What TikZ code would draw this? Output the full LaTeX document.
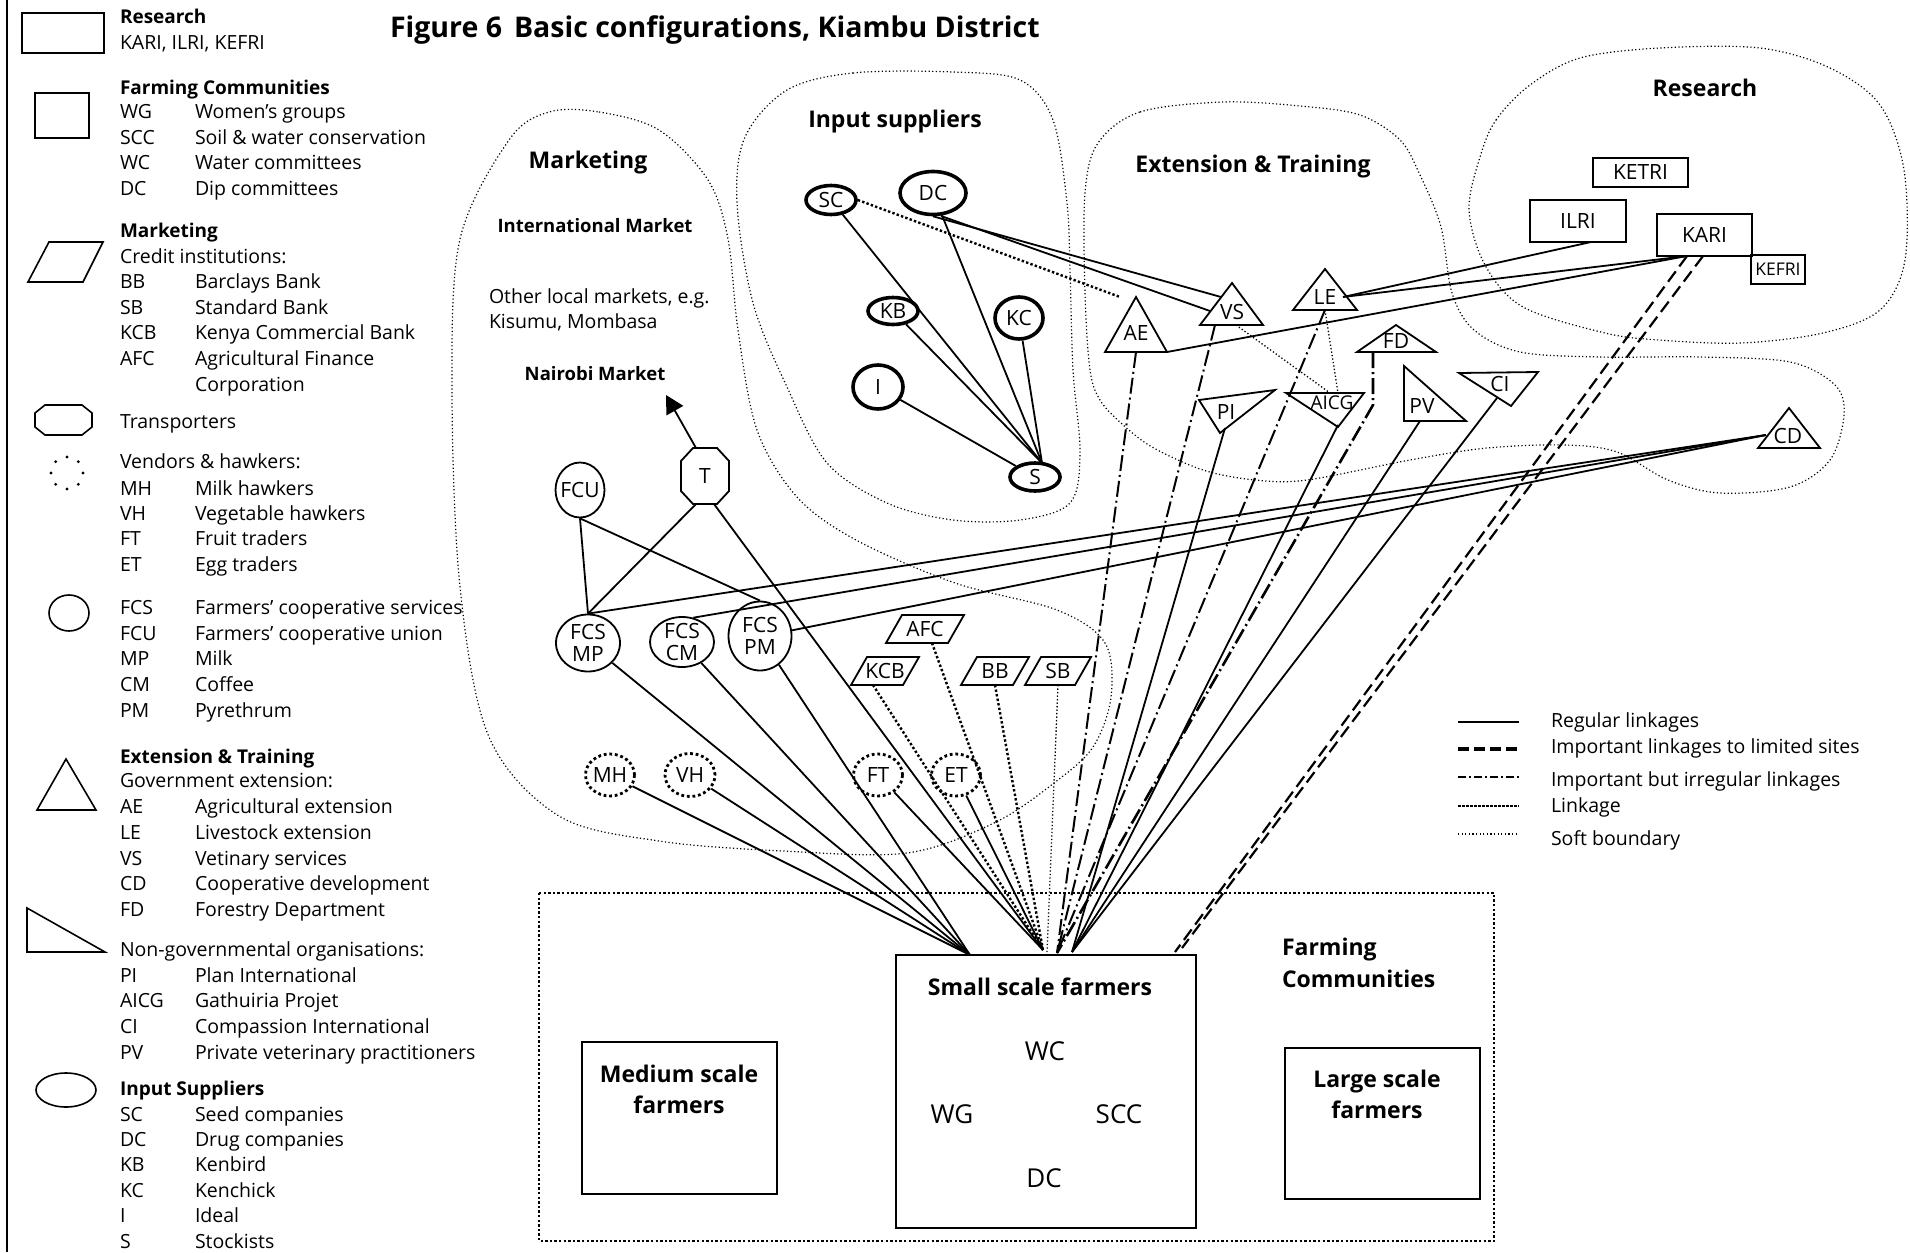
\documentclass[tikz,border=0pt]{standalone}
\usepackage{fontspec}
\setmainfont{Open Sans}
\usetikzlibrary{shapes.geometric,arrows.meta,calc}

% font sizes (1pt = one unit of the drawing grid)
\newcommand\fLeg{\fontsize{19.5pt}{25.5pt}\selectfont}
\newcommand\fLegB{\fontsize{19pt}{25.5pt}\selectfont\bfseries}
\newcommand\fLbl{\fontsize{21pt}{22pt}\selectfont}
\newcommand\fSec{\fontsize{23pt}{30pt}\selectfont\bfseries}
\newcommand\fSub{\fontsize{18.5pt}{24pt}\selectfont\bfseries}
\newcommand\fTtl{\fontsize{28.5pt}{34pt}\selectfont\bfseries}
\newcommand\fIn{\fontsize{26pt}{30pt}\selectfont}

% legend helpers
\newcommand\legrow[4]{%
  \node[txt, anchor=base west] (#1a) at (120,#2) {\fLeg #3};
  \node[txt, anchor=base west] (#1b) at (195,#2) {\fLeg #4};}
\newcommand\leghead[4]{%
  \node[txt, anchor=base west] (#1) at (120,#2) {#3#4};}
% shape node with its label on top
\newcommand\lblshape[5]{%
  \node[#1] (#2) at (#3,#4) {};
  \node[txt, font=\fLbl, align=center] (#2-t) at (#2.center) {#5};}
% parallelogram: name, x, y, edge width, text
\newcommand\pgram[5]{%
  \node[txt, font=\fLbl, minimum width=#4, minimum height=28pt] (#1) at (#2,#3) {#5};
  \draw[shp] ($(#1.south west)+(-8,0)$) -- ($(#1.south east)+(-8,0)$)
     -- ($(#1.north east)+(8,0)$) -- ($(#1.north west)+(8,0)$) -- cycle;}

\begin{document}
\begin{tikzpicture}[x=1pt, y=-1pt,
  txt/.style={inner sep=0pt, outer sep=0pt},
  sym/.style={draw, line width=1.6pt},
  shp/.style={draw, line width=1.8pt},
  reg/.style={line width=1.8pt},
  imp/.style={line width=2.2pt, dash pattern=on 13pt off 6pt},
  irr/.style={line width=2pt, dash pattern=on 16pt off 4pt on 2pt off 4pt},
  lnk/.style={line width=2.4pt, dash pattern=on 2.4pt off 2.2pt},
  thindot/.style={line width=1.3pt, dash pattern=on 1.3pt off 2.2pt},
  soft/.style={line width=1.2pt, dash pattern=on 1.2pt off 2.4pt},
  sup/.style={ellipse, draw, line width=3.6pt, inner sep=0pt},
  coop/.style={ellipse, draw, line width=1.8pt, inner sep=0pt},
  vend/.style={ellipse, draw, line width=2.8pt, dash pattern=on 2.8pt off 2.8pt, inner sep=0pt},
  box/.style={rectangle, draw, line width=1.8pt, inner sep=0pt},
]
\useasboundingbox (0,0) rectangle (1910,1252);

% ---------------- key on the left ----------------
\draw[line width=2pt] (7,0) -- (7,1252);

\draw[sym] (22,13) rectangle (104,53);
\draw[sym] (35,93) rectangle (89,138);
\draw[sym] (28,282) -- (83,282) -- (103,242) -- (49,242) -- cycle;
\draw[sym] (45,405) -- (82,405) -- (92,413) -- (92,427) -- (82,435) -- (45,435) -- (35,427) -- (35,413) -- cycle;
\foreach \a in {0,45,...,315} \fill ($(67,473)+(\a:16)$) circle (1.6pt);
\draw[sym] (69,613) ellipse [x radius=20pt, y radius=18pt];
\draw[sym] (37,810) -- (96,810) -- (66,759) -- cycle;
\draw[sym] (27,908) -- (27,952) -- (105,952) -- cycle;
\draw[sym] (66,1090) ellipse [x radius=30pt, y radius=17pt];

\leghead{lgR}{24}{\fLegB}{Research}
\node[txt, anchor=base west] (lgRa) at (120,50) {\fLeg KARI, ILRI, KEFRI};
\leghead{lgF}{95}{\fLegB}{Farming Communities}
\legrow{lgWG}{119}{WG}{Women’s groups}
\legrow{lgSCC}{145}{SCC}{Soil \& water conservation}
\legrow{lgWC}{170}{WC}{Water committees}
\legrow{lgDC}{196}{DC}{Dip committees}
\leghead{lgM}{237}{\fLegB}{Marketing}
\leghead{lgCr}{263}{\fLeg}{Credit institutions:}
\legrow{lgBB}{288}{BB}{Barclays Bank}
\legrow{lgSB}{314}{SB}{Standard Bank}
\legrow{lgKCB}{339}{KCB}{Kenya Commercial Bank}
\legrow{lgAFC}{365}{AFC}{Agricultural Finance}
\node[txt, anchor=base west] (lgAFCc) at (195,391) {\fLeg Corporation};
\leghead{lgT}{428}{\fLeg}{Transporters}
\leghead{lgV}{468}{\fLeg}{Vendors \& hawkers:}
\legrow{lgMH}{495}{MH}{Milk hawkers}
\legrow{lgVH}{520}{VH}{Vegetable hawkers}
\legrow{lgFT}{545}{FT}{Fruit traders}
\legrow{lgET}{571}{ET}{Egg traders}
\legrow{lgFCS}{614}{FCS}{Farmers’ cooperative services}
\legrow{lgFCU}{640}{FCU}{Farmers’ cooperative union}
\legrow{lgMP}{665}{MP}{Milk}
\legrow{lgCM}{691}{CM}{Coffee}
\legrow{lgPM}{717}{PM}{Pyrethrum}
\leghead{lgE}{763}{\fLegB}{Extension \& Training}
\leghead{lgG}{787}{\fLeg}{Government extension:}
\legrow{lgAE}{813}{AE}{Agricultural extension}
\legrow{lgLE}{839}{LE}{Livestock extension}
\legrow{lgVS}{865}{VS}{Vetinary services}
\legrow{lgCD}{890}{CD}{Cooperative development}
\legrow{lgFD}{916}{FD}{Forestry Department}
\leghead{lgN}{956}{\fLeg}{Non-governmental organisations:}
\legrow{lgPI}{982}{PI}{Plan International}
\legrow{lgAICG}{1007}{AICG}{Gathuiria Projet}
\legrow{lgCI}{1033}{CI}{Compassion International}
\legrow{lgPV}{1059}{PV}{Private veterinary practitioners}
\leghead{lgI}{1095}{\fLegB}{Input Suppliers}
\legrow{lgSC}{1121}{SC}{Seed companies}
\legrow{lgDCo}{1146}{DC}{Drug companies}
\legrow{lgKB}{1171}{KB}{Kenbird}
\legrow{lgKC}{1197}{KC}{Kenchick}
\legrow{lgId}{1222}{I}{Ideal}
\legrow{lgS}{1248}{S}{Stockists}

% ---------------- title ----------------
\node[txt, anchor=base west, font=\fTtl] (title) at (390,38)
  {Figure 6\hspace{12pt}Basic configurations, Kiambu District};

% ---------------- soft boundaries ----------------
\draw[soft] plot[smooth cycle, tension=0.55] coordinates {
  (549,112) (599,112) (659,130) (708,180) (728,239) (738,330) (757,430) (797,497)
  (856,540) (955,583) (1057,610) (1105,643) (1111,697) (1093,747) (1054,783)
  (994,823) (907,853) (783,851) (659,841) (559,816) (489,737) (460,587) (452,388)
  (460,239) (509,140)};
\draw[soft] plot[smooth cycle, tension=0.55] coordinates {
  (787,90) (853,73) (953,72) (1020,80) (1053,120) (1067,203) (1070,270) (1073,370)
  (1080,453) (1070,503) (1020,520) (953,520) (887,503) (827,463) (787,387)
  (753,303) (737,203) (745,137)};
\draw[soft] plot[smooth cycle, tension=0.55] coordinates {
  (1098,143) (1140,112) (1223,102) (1300,106) (1360,115) (1400,140) (1420,175)
  (1441,227) (1452,293) (1474,330) (1520,352) (1600,357) (1700,357) (1790,362)
  (1835,385) (1844,415) (1830,460) (1790,487) (1720,493) (1668,480) (1617,452)
  (1565,445) (1487,448) (1410,460) (1307,480) (1255,480) (1203,470) (1152,447)
  (1121,423) (1100,400) (1090,370) (1085,293) (1085,193)};
\draw[soft] plot[smooth cycle, tension=0.55] coordinates {
  (1480,157) (1496,120) (1530,85) (1580,58) (1660,48) (1760,48) (1830,68)
  (1880,105) (1904,170) (1905,260) (1880,310) (1823,333) (1741,343) (1659,340)
  (1605,333) (1523,307) (1485,265) (1469,210)};

% ---------------- group titles ----------------
\node[txt, font=\fSec] (tMkt) at (588,163) {Marketing};
\node[txt, font=\fSec] (tInp) at (895,122) {Input suppliers};
\node[txt, font=\fSec] (tExt) at (1253,167) {Extension \& Training};
\node[txt, font=\fSec] (tRes) at (1705,88) {Research};
\node[txt, font=\fSub] (tInt) at (595,226) {International Market};
\node[txt, anchor=base west, font=\fLeg] (tOth1) at (489,303) {Other local markets, e.g.};
\node[txt, anchor=base west, font=\fLeg] (tOth2) at (489,328) {Kisumu, Mombasa};
\node[txt, font=\fSub] (tNai) at (595,374) {Nairobi Market};

% ---------------- input suppliers ----------------
\lblshape{sup, minimum width=50pt, minimum height=29pt}{SC}{831}{200}{SC}
\lblshape{sup, minimum width=66pt, minimum height=43pt}{DC}{933}{193}{DC}
\lblshape{sup, minimum width=50pt, minimum height=27pt}{KB}{893}{311}{KB}
\lblshape{sup, minimum width=48pt, minimum height=42pt}{KC}{1019}{318}{KC}
\lblshape{sup, minimum width=50pt, minimum height=44pt}{I}{878}{387}{I}
\lblshape{sup, minimum width=50pt, minimum height=28pt}{S}{1035}{477}{S}
\coordinate (Stop) at (1042,463);
\coordinate (DCs2) at (941,216);

% ---------------- marketing ----------------
\lblshape{coop, minimum width=49pt, minimum height=55pt}{FCU}{580}{490}{FCU}
\lblshape{coop, minimum width=64pt, minimum height=57pt}{FCSMP}{588}{643}{FCS\\MP}
\lblshape{coop, minimum width=64pt, minimum height=50pt}{FCSCM}{682}{642}{FCS\\CM}
\lblshape{coop, minimum width=63pt, minimum height=69pt}{FCSPM}{760}{636}{FCS\\PM}
\lblshape{vend, minimum width=49pt, minimum height=42pt}{MH}{610}{775}{MH}
\lblshape{vend, minimum width=50pt, minimum height=43pt}{VH}{690}{775}{VH}
\lblshape{vend, minimum width=49pt, minimum height=42pt}{FT}{878}{775}{FT}
\lblshape{vend, minimum width=49pt, minimum height=42pt}{ET}{956}{775}{ET}

% transporters
\node[txt, font=\fLbl, minimum width=48pt, minimum height=56pt] (T) at (705,476) {T};
\draw[shp] (693,448) -- (717,448) -- (729,461) -- (729,491) -- (717,504) -- (693,504) -- (681,491) -- (681,461) -- cycle;
\coordinate (Ttop) at (696,448);
\coordinate (Tbl) at (696,504);
\coordinate (Tbr) at (714,504);
\coordinate (NMk) at (666,395);

% credit institutions
\pgram{AFC}{925}{629}{62pt}{AFC}
\pgram{KCB}{885}{671}{52pt}{KCB}
\pgram{BB}{995}{671}{52pt}{BB}
\pgram{SB}{1058}{671}{50pt}{SB}

% ---------------- extension & training ----------------
\draw[shp] (1105,352) -- (1136,297) -- (1167,352) -- cycle;
\node[txt, font=\fLbl] (AE) at (1136,333) {AE};
\draw[shp] (1200,325) -- (1232,283) -- (1263,325) -- cycle;
\node[txt, font=\fLbl] (VS) at (1232,312) {VS};
\draw[shp] (1293,310) -- (1325,269) -- (1357,310) -- cycle;
\node[txt, font=\fLbl] (LE) at (1325,297) {LE};
\draw[shp] (1357,352) -- (1396,325) -- (1436,352) -- cycle;
\node[txt, font=\fLbl] (FD) at (1396,341) {FD};
\draw[shp] (1758,448) -- (1789,408) -- (1820,448) -- cycle;
\node[txt, font=\fLbl] (CD) at (1788,436) {CD};
\draw[shp] (1199,400) -- (1275,390) -- (1220,433) -- cycle;
\node[txt, font=\fLbl] (PI) at (1226,412) {PI};
\draw[shp] (1286,393) -- (1364,393) -- (1338,427) -- cycle;
\node[txt, font=\fontsize{19pt}{20pt}\selectfont] (AICG) at (1332,403) {AICG};
\draw[shp] (1404,366) -- (1404,421) -- (1466,421) -- cycle;
\node[txt, font=\fLbl] (PV) at (1422,406) {PV};
\draw[shp] (1459,373) -- (1538,372) -- (1511,406) -- cycle;
\node[txt, font=\fLbl] (CI) at (1500,384) {CI};

\coordinate (AEb) at (1136,352);
\coordinate (AEr) at (1167,352);
\coordinate (AEtip) at (1120,297);
\coordinate (VSa) at (1221,297);
\coordinate (VSc) at (1210,311);
\coordinate (VSb) at (1215,325);
\coordinate (VSd) at (1236,325);
\coordinate (LEb) at (1325,310);
\coordinate (LEr) at (1343,297);
\coordinate (FDb) at (1373,352);
\coordinate (FDbend) at (1373,405);
\coordinate (PIb) at (1225,428);
\coordinate (AICGt) at (1330,393);
\coordinate (AICGt2) at (1338,393);
\coordinate (AICGb) at (1338,425);
\coordinate (PVb) at (1420,421);
\coordinate (CIb) at (1497,398);
\coordinate (CDl) at (1766,435);

% ---------------- research ----------------
\node[box, font=\fLbl, minimum width=95pt, minimum height=29pt] (KETRI) at (1640.5,172.5) {KETRI};
\node[box, font=\fLbl, minimum width=96pt, minimum height=42pt] (ILRI) at (1578,221) {ILRI};
\node[box, font=\fLbl, minimum width=95pt, minimum height=42pt] (KARI) at (1704.5,235) {KARI};
\node[box, font=\fontsize{17.5pt}{18pt}\selectfont, minimum width=54pt, minimum height=29pt] (KEFRI) at (1778,269.5) {KEFRI};
\coordinate (ILRIp) at (1591,242);
\coordinate (KARIp1) at (1687,256);
\coordinate (KARIp2) at (1703,256);

% ---------------- farming communities ----------------
\draw[lnk] (539,893) rectangle (1494,1241);
\node[box, minimum width=195pt, minimum height=152pt] (MF) at (679.5,1118) {};
\node[box, minimum width=300pt, minimum height=273pt] (SSF) at (1046,1091.5) {};
\node[box, minimum width=195pt, minimum height=151pt] (LF) at (1382.5,1123.5) {};
\node[txt, anchor=base, font=\fSec] (MF-t1) at (679,1082) {Medium scale};
\node[txt, anchor=base, font=\fSec] (MF-t2) at (679,1113) {farmers};
\node[txt, anchor=base, font=\fSec] (LF-t1) at (1377,1087) {Large scale};
\node[txt, anchor=base, font=\fSec] (LF-t2) at (1377,1118) {farmers};
\node[txt, anchor=base, font=\fSec] (SSF-t) at (1040,995) {Small scale farmers};
\node[txt, anchor=base, font=\fIn] (SSF-wc) at (1045,1060) {WC};
\node[txt, anchor=base, font=\fIn] (SSF-wg) at (952,1123) {WG};
\node[txt, anchor=base, font=\fIn] (SSF-scc) at (1119,1123) {SCC};
\node[txt, anchor=base, font=\fIn] (SSF-dc) at (1044,1187) {DC};
\node[txt, anchor=base west, font=\fSec] (FC-t1) at (1282,955) {Farming};
\node[txt, anchor=base west, font=\fSec] (FC-t2) at (1282,987) {Communities};

\coordinate (cL) at (970,955);
\coordinate (cC) at (1043,950);
\coordinate (cC2) at (1047,952);
\coordinate (cD) at (1057,953);
\coordinate (cR) at (1072,952);
\coordinate (cK1) at (1175,952);
\coordinate (cK2) at (1182,948);

% ---------------- connectors ----------------
% among input suppliers
\draw[reg] (SC) -- (Stop);
\draw[reg] (DC) -- (Stop);
\draw[reg] (KB) -- (Stop);
\draw[reg] (KC) -- (Stop);
\draw[reg] (I) -- (S);
\draw[reg] (DC.south) -- (VSa);
\draw[reg] (DCs2) -- (VSc);
\draw[lnk] (SC.east) -- (AEtip);

% marketing
\draw[reg, -{Triangle[length=18pt,width=19pt]}] (Ttop) -- (NMk);
\draw[reg] (FCU.south) -- (FCSMP.north);
\draw[reg] (Tbl) -- (FCSMP.north);
\draw[reg] (FCU.south) -- (FCSPM.north);
\draw[reg] (CDl) -- (FCSMP.north);
\draw[reg] (CDl) -- (FCSCM.65);
\draw[reg] (CDl) -- (FCSPM.10);
\foreach \n in {FCSMP,FCSCM,FCSPM,MH,VH} \draw[reg] (\n) -- (cL);
\draw[reg] (Tbr) -- (cC);
\draw[reg] (FT) -- (cC);
\draw[reg] (ET) -- (cC);
\draw[lnk] ($(KCB.south)+(-12,0)$) -- (cC);
\draw[lnk] ($(AFC.south)+(7,0)$) -- (cC);
\draw[lnk] (BB.south) -- (cC);
\draw[thindot] (SB.south) -- (cC2);

% extension, training and research
\draw[irr] (AEb) -- (cD);
\draw[irr] (VSb) -- (cD);
\draw[irr] (LEb) -- (cD);
\draw[irr, line width=2.6pt] (FDb) -- (FDbend) -- (cD);
\draw[reg] (PIb) -- (cR);
\draw[reg] (AICGb) -- (cR);
\draw[reg] (PVb) -- (cR);
\draw[reg] (CIb) -- (cR);
\draw[thindot] (VSd) -- (AICGt);
\draw[thindot] (LEb) -- (AICGt2);
\draw[reg] (AEr) -- (KARIp1);
\draw[reg] (LEr) -- (ILRIp);
\draw[reg] (LEr) -- (KARIp1);
\draw[imp] (KARIp1) -- (cK1);
\draw[imp] (KARIp2) -- (cK2);

% farms of other sizes
\draw[line width=1.4pt] ($(MF.east)+(0,-6)$) -- ($(MF.east)+(0,-6)$ -| SSF.west);
\draw[line width=1.4pt] ($(LF.west)+(0,-16)$) -- ($(LF.west)+(0,-16)$ -| SSF.east);

% ---------------- line key ----------------
\draw[line width=2.2pt] (1458,722) -- (1519,722);
\draw[line width=4pt, dash pattern=on 11pt off 5pt] (1458,749) -- (1519,749);
\draw[line width=1.8pt, dash pattern=on 8pt off 3pt on 2pt off 3pt] (1458,777) -- (1519,777);
\draw[line width=2.6pt, dash pattern=on 3pt off 1pt] (1458,806) -- (1519,806);
\draw[soft] (1458,834) -- (1519,834);
\node[txt, anchor=base west, font=\fLeg] (kReg) at (1551,727) {Regular linkages};
\node[txt, anchor=base west, font=\fLeg] (kImp) at (1551,753) {Important linkages to limited sites};
\node[txt, anchor=base west, font=\fLeg] (kIrr) at (1551,786) {Important but irregular linkages};
\node[txt, anchor=base west, font=\fLeg] (kLnk) at (1551,812) {Linkage};
\node[txt, anchor=base west, font=\fLeg] (kSoft) at (1551,845) {Soft boundary};

\end{tikzpicture}
\end{document}
